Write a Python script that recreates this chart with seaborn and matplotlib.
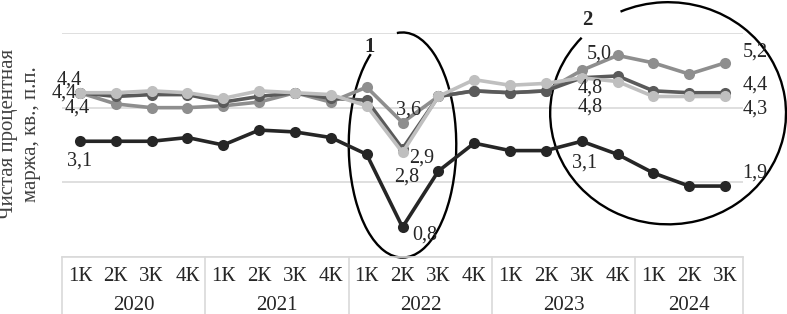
import numpy as np
import pandas as pd
import seaborn as sns
import matplotlib.pyplot as plt
from matplotlib.patches import Arc

# данные (читаются с графика)
years = ['2020', '2021', '2022', '2023', '2024']
quarters_per_year = [4, 4, 4, 4, 3]
quarter_labels = ['1К', '2К', '3К', '4К'] * 4 + ['1К', '2К', '3К']

series_names = ['Ряд 1', 'Ряд 2', 'Ряд 3', 'Ряд 4']
black = [3.1, 3.1, 3.1, 3.2, 3.0, 3.4, 3.35, 3.2, 2.75, 0.8, 2.3, 3.05, 2.85, 2.85, 3.1, 2.75, 2.25, 1.9, 1.9]
medium = [4.4, 4.1, 4.0, 4.0, 4.05, 4.15, 4.4, 4.15, 4.55, 3.6, 4.3, 4.45, 4.4, 4.45, 5.0, 5.4, 5.2, 4.9, 5.2]
dark = [4.4, 4.3, 4.35, 4.35, 4.15, 4.3, 4.4, 4.25, 4.2, 2.9, 4.3, 4.45, 4.4, 4.45, 4.8, 4.85, 4.45, 4.4, 4.4]
light = [4.4, 4.4, 4.45, 4.4, 4.25, 4.45, 4.4, 4.35, 4.05, 2.8, 4.3, 4.75, 4.6, 4.65, 4.8, 4.7, 4.3, 4.3, 4.3]
values = [black, medium, dark, light]
colors = ['#262626', '#8e8e8e', '#5a5a5a', '#bfbfbf']

# какие точки подписаны и куда сдвинуть подпись (пиксели)
label_idx = [0, 9, 14, 18]
label_offsets = {
    0: [(0, -20), (-3, -15), (-16, 0), (-11, 13)],
    9: [(22, -8), (6, 13), (19, -9), (4, -25)],
    14: [(3, -22), (18, 16), (8, -10), (8, -29)],
    18: [(30, 13), (30, 11), (30, 8), (30, -13)],
}

n = len(quarter_labels)
df = pd.DataFrame({
    'idx': np.tile(np.arange(n), len(series_names)),
    'value': np.concatenate(values),
    'series': np.repeat(series_names, n),
})

sns.set_style('white')
plt.rcParams['font.family'] = ['Liberation Serif', 'DejaVu Serif']

fig = plt.figure(figsize=(7.87, 3.14), dpi=100)
ax = fig.add_axes([62 / 787, 57 / 314, 681 / 787, 224 / 314])

sns.lineplot(data=df, x='idx', y='value', hue='series', hue_order=series_names,
             palette=dict(zip(series_names, colors)), marker='o', markersize=8,
             markeredgewidth=0, linewidth=2.6, legend=False, ax=ax)

ax.set_xlim(-0.5, n - 0.5)
ax.set_ylim(0, 6)
ax.set_yticks([0, 2, 4, 6])
ax.set_yticklabels([])
ax.grid(axis='y', color='#d9d9d9', linewidth=1.2)
ax.grid(axis='x', visible=False)
ax.set_axisbelow(True)
for s in ['left', 'right', 'top']:
    ax.spines[s].set_visible(False)
ax.spines['bottom'].set_color('#d9d9d9')
ax.spines['bottom'].set_linewidth(1.2)
ax.tick_params(axis='y', length=0)
ax.set_xticks(range(n))
ax.set_xticklabels(quarter_labels, fontsize=15)
ax.tick_params(axis='x', length=0, pad=7)
ax.set_xlabel('')
ax.set_ylabel('')

# годы и разделители
trans = ax.get_xaxis_transform()
bounds = np.concatenate([[0], np.cumsum(quarters_per_year)]) - 0.5
for b in bounds:
    ax.plot([b, b], [0, -0.26], transform=trans, color='#d9d9d9', lw=1.2, clip_on=False)
for y, a, b in zip(years, bounds[:-1], bounds[1:]):
    ax.text((a + b) / 2, -0.215, y, transform=trans, ha='center', va='center', fontsize=15)

# подписи значений
for i in label_idx:
    for vals, off in zip(values, label_offsets[i]):
        ax.annotate(f'{vals[i]:.1f}'.replace('.', ','), (i, vals[i]), xytext=off,
                    textcoords='offset pixels', ha='center', va='center',
                    fontsize=14.5, annotation_clip=False)

# выделенные области
ax.add_patch(Arc((9.0, 3.0), 3.0, 6.03, theta1=110, theta2=93, color='black', lw=1.7, clip_on=False))
ax.add_patch(Arc((16.41, 3.85), 6.58, 5.95, theta1=140, theta2=116, color='black', lw=1.7, clip_on=False))
ax.text(8.09, 5.62, '1', ha='center', va='center', fontsize=15, fontweight='bold', clip_on=False)
ax.text(14.15, 6.34, '2', ha='center', va='center', fontsize=15, fontweight='bold', clip_on=False)

fig.text(20 / 787, 1 - 134 / 314, 'Чистая процентная\nмаржа, кв., п.п.', rotation=90,
         ha='center', va='center', fontsize=15, color='#404040', linespacing=1.25)

fig.savefig('out.png', dpi=100)
